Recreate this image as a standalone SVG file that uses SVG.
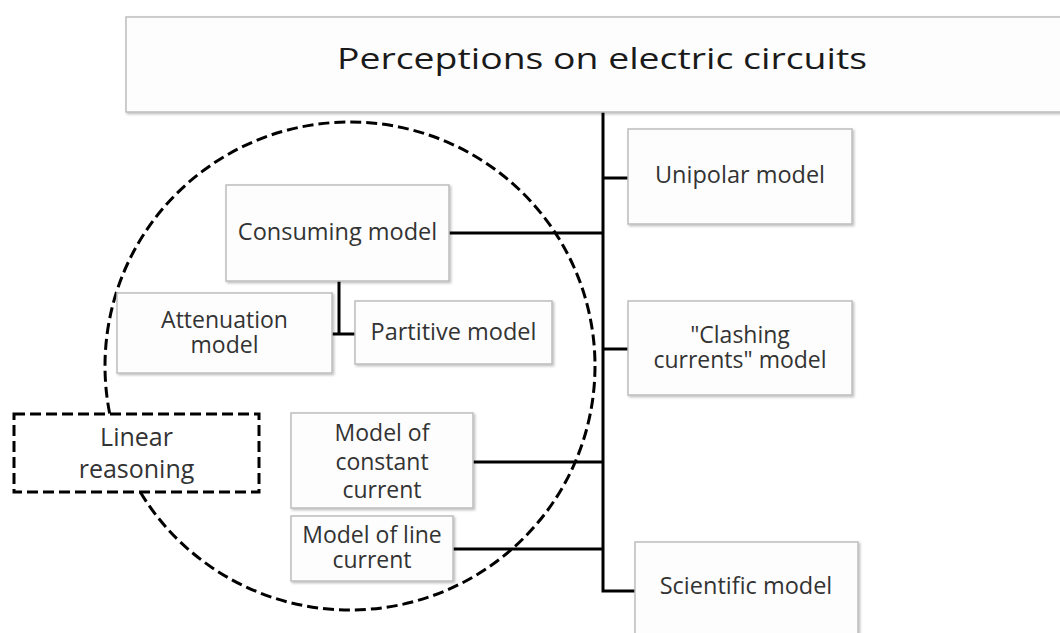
<svg xmlns="http://www.w3.org/2000/svg" width="1060" height="633" viewBox="0 0 1060 633">
  <style>
    .box { fill: #fdfdfd; stroke: #bdbdbd; stroke-width: 1.5; filter: url(#sh); }
    .lbl { font-family: "Open Sans", "DejaVu Sans", sans-serif; font-size: 23.5px; fill: #333333; text-anchor: middle; }
    .ml { font-size: 23px; }
    .title { font-family: "Open Sans", "DejaVu Sans", sans-serif; font-size: 29px; fill: #1a1a1a; }
    .conn { stroke: #000000; stroke-width: 3; fill: none; }
    .dash { stroke: #000000; stroke-width: 3; stroke-dasharray: 11 5; }
  </style>
  <defs>
    <filter id="sh" x="-5%" y="-5%" width="115%" height="120%">
      <feDropShadow dx="1.5" dy="1.5" stdDeviation="1" flood-color="#000000" flood-opacity="0.25"/>
    </filter>
  </defs>
  <rect width="1060" height="633" fill="#ffffff"/>

  <g id="reasoning-circle">
    <ellipse class="dash" cx="350" cy="366" rx="245" ry="244" fill="none"/>
  </g>

  <g id="connectors">
    <path class="conn" d="M603,112 V591 H635"/>
    <path class="conn" d="M603,178 H628"/>
    <path class="conn" d="M449,233 H603"/>
    <path class="conn" d="M603,349 H628"/>
    <path class="conn" d="M473,462 H603"/>
    <path class="conn" d="M453,549 H603"/>
    <path class="conn" d="M339,281 V334"/>
    <path class="conn" d="M332,334 H355"/>
  </g>

  <g id="title">
    <rect class="box" x="126" y="17" width="950" height="95"/>
    <text class="title" x="337" y="69" textLength="530" lengthAdjust="spacingAndGlyphs">Perceptions on electric circuits</text>
  </g>

  <g id="unipolar">
    <rect class="box" x="628" y="129" width="224" height="95"/>
    <text class="lbl" x="740" y="183">Unipolar model</text>
  </g>

  <g id="consuming">
    <rect class="box" x="226" y="185" width="223" height="96"/>
    <text class="lbl" x="337.5" y="240">Consuming model</text>
  </g>

  <g id="attenuation">
    <rect class="box" x="117" y="293" width="215" height="80"/>
    <text class="lbl ml" x="224.5" y="328">Attenuation</text>
    <text class="lbl ml" x="224.5" y="353">model</text>
  </g>

  <g id="partitive">
    <rect class="box" x="355" y="301" width="197" height="63"/>
    <text class="lbl" x="453.5" y="340">Partitive model</text>
  </g>

  <g id="clashing">
    <rect class="box" x="628" y="301" width="224" height="94"/>
    <text class="lbl ml" x="740" y="343">"Clashing</text>
    <text class="lbl ml" x="740" y="368">currents" model</text>
  </g>

  <g id="linear-reasoning">
    <rect class="dash" x="14" y="414" width="245" height="78" fill="#ffffff"/>
    <text class="lbl" x="136.5" y="446" style="font-size:25px">Linear</text>
    <text class="lbl" x="136.5" y="478" style="font-size:25px">reasoning</text>
  </g>

  <g id="constant-current">
    <rect class="box" x="291" y="413" width="182" height="95"/>
    <text class="lbl ml" x="382" y="441">Model of</text>
    <text class="lbl ml" x="382" y="470">constant</text>
    <text class="lbl ml" x="382" y="498">current</text>
  </g>

  <g id="line-current">
    <rect class="box" x="291" y="516" width="162" height="65"/>
    <text class="lbl ml" x="372" y="543">Model of line</text>
    <text class="lbl ml" x="372" y="568">current</text>
  </g>

  <g id="scientific">
    <rect class="box" x="635" y="542" width="223" height="110"/>
    <text class="lbl" x="746" y="594">Scientific model</text>
  </g>
</svg>
